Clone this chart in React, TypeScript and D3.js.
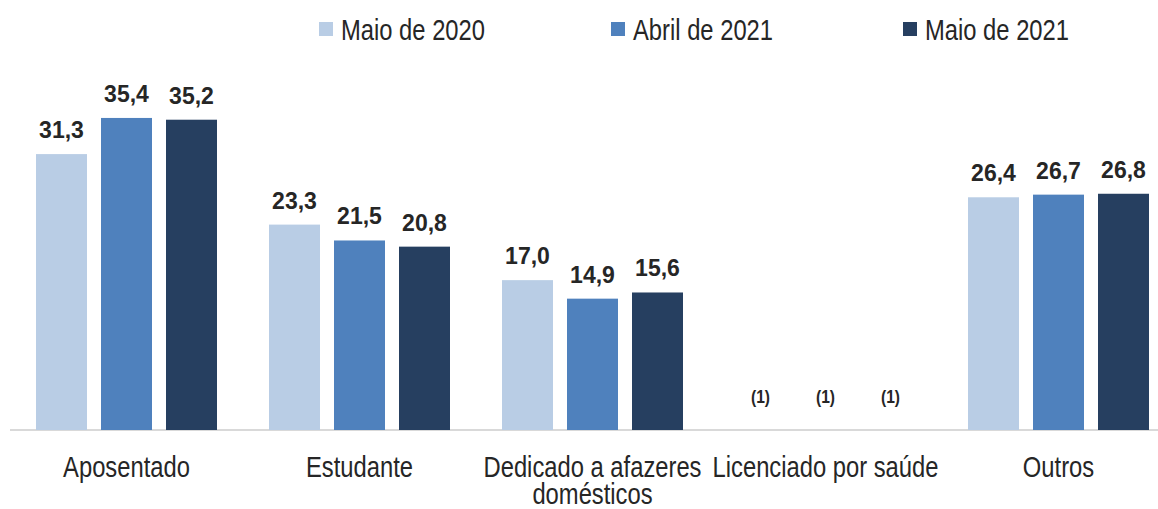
import React from "react";
import * as d3 from "d3";

const categories = ["Aposentado", "Estudante", "Dedicado a afazeres domésticos", "Licenciado por saúde", "Outros"];
const categoryLines = [["Aposentado"], ["Estudante"], ["Dedicado a afazeres", "domésticos"], ["Licenciado por saúde"], ["Outros"]];
const series = ["Maio de 2020", "Abril de 2021", "Maio de 2021"];
const maio2020 = [31.3, 23.3, 17.0, null, 26.4];
const abril2021 = [35.4, 21.5, 14.9, null, 26.7];
const maio2021 = [35.2, 20.8, 15.6, null, 26.8];
const missingLabel = "(1)";
const colors = ["#b9cde5", "#4f81bd", "#263f60"];

const width = 1158;
const height = 509;
const baseline = 430;
const font = "'Liberation Sans', Arial, sans-serif";
const textColor = "#262626";
// the original text looks like Arial Narrow: squeeze a regular sans
const narrow = 0.82;

const App = () => {
  const values = [maio2020, abril2021, maio2021];

  const x0 = d3.scaleBand().domain(categories).range([10, 1175]).padding(0);
  const x1 = d3
    .scaleBand()
    .domain(series)
    .range([26, 207])
    .paddingInner(14 / 65)
    .paddingOuter(0);
  const y = d3.scaleLinear().domain([0, 40]).range([baseline, 77.4]);

  // legend laid out on its own band scale
  const legendX = d3.scaleBand().domain(series).range([319, 319 + 3 * 292]);

  const fmt = (v) => d3.format(".1f")(v).replace(".", ",");

  return (
    <svg
      width={width}
      height={height}
      style={{ position: "absolute", left: 0, top: 0, background: "#fff" }}
      fontFamily={font}
    >
      <g className="legend">
        {series.map((s, i) => (
          <g key={s} transform={`translate(${legendX(s)},0)`}>
            <rect x={0} y={22} width={14} height={14} fill={colors[i]} />
            <text transform={`translate(22,40) scale(${narrow},1)`} fontSize={29} fill={textColor}>
              {s}
            </text>
          </g>
        ))}
      </g>

      <line x1={10} x2={width} y1={baseline} y2={baseline} stroke="#d9d9d9" strokeWidth={2} />

      {categories.map((c, ci) => (
        <g key={c} transform={`translate(${x0(c)},0)`}>
          {series.map((s, si) => {
            const v = values[si][ci];
            const bx = x1(s);
            const cx = bx + x1.bandwidth() / 2;
            if (v == null) {
              return (
                <text
                  key={s}
                  transform={`translate(${cx},403) scale(${narrow},1)`}
                  textAnchor="middle"
                  fontSize={19}
                  fontWeight="bold"
                  fill={textColor}
                >
                  {missingLabel}
                </text>
              );
            }
            return (
              <g key={s}>
                <rect x={bx} y={y(v)} width={x1.bandwidth()} height={baseline - y(v)} fill={colors[si]} />
                <text x={cx} y={y(v) - 16} textAnchor="middle" fontSize={23} fontWeight="bold" fill={textColor}>
                  {fmt(v)}
                </text>
              </g>
            );
          })}
          {categoryLines[ci].map((line, li) => (
            <text
              key={line}
              transform={`translate(${x0.bandwidth() / 2},${477 + li * 27}) scale(${narrow},1)`}
              textAnchor="middle"
              fontSize={29}
              fill={textColor}
            >
              {line}
            </text>
          ))}
        </g>
      ))}
    </svg>
  );
};

export default App;
